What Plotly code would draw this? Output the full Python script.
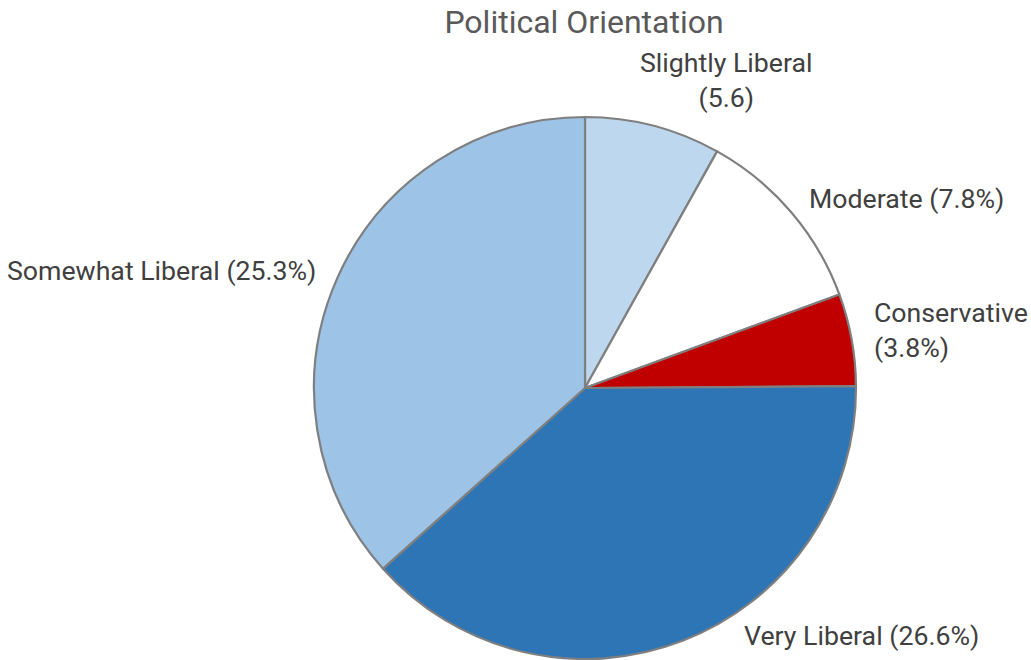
import plotly.graph_objects as go

# Survey breakdown of political orientation
categories = ["Slightly Liberal", "Moderate", "Conservative", "Very Liberal", "Somewhat Liberal"]
values = [5.6, 7.8, 3.8, 26.6, 25.3]
value_suffix = ["", "%", "%", "%", "%"]
label_breaks = [True, False, True, False, False]
colors = ["#BDD7EE", "#FFFFFF", "#C00000", "#2E75B6", "#9DC3E6"]

W, H = 1031, 660

# Label placement around the pie (pixel anchor, anchor side, alignment)
label_layout = [
    dict(px=726, py=80, xanchor="center", align="center"),
    dict(px=807, py=199, xanchor="left", align="left"),
    dict(px=872, py=331, xanchor="left", align="left"),
    dict(px=742, py=636, xanchor="left", align="left"),
    dict(px=318, py=271, xanchor="right", align="right"),
]

fig = go.Figure(
    go.Pie(
        labels=categories,
        values=values,
        textinfo="none",
        sort=False,
        direction="clockwise",
        rotation=0,
        automargin=False,
        marker=dict(colors=colors, line=dict(color="#7F7F7F", width=2.2)),
        hoverinfo="label+value",
        showlegend=False,
        domain=dict(x=[314 / W, 856 / W], y=[1 - 659 / H, 1 - 117 / H]),
    )
)

for cat, val, suf, brk, pos in zip(categories, values, value_suffix, label_breaks, label_layout):
    sep = "<br>" if brk else " "
    fig.add_annotation(
        text=f"{cat}{sep}({val}{suf})",
        x=pos["px"] / W,
        y=1 - pos["py"] / H,
        xref="paper",
        yref="paper",
        xanchor=pos["xanchor"],
        yanchor="middle",
        align=pos["align"],
        showarrow=False,
        font=dict(family="Roboto", size=26.7, color="#404040"),
    )

fig.update_layout(
    width=W,
    height=H,
    autosize=False,
    margin=dict(l=0, r=0, t=0, b=0, pad=0, autoexpand=False),
    paper_bgcolor="white",
    plot_bgcolor="white",
    title=dict(
        text="Political Orientation",
        font=dict(family="Roboto", size=32, color="#595959"),
        x=584 / W,
        xanchor="center",
        xref="paper",
        y=1 - 22 / H,
        yanchor="middle",
        yref="container",
    ),
)

fig.write_html("out.html")
